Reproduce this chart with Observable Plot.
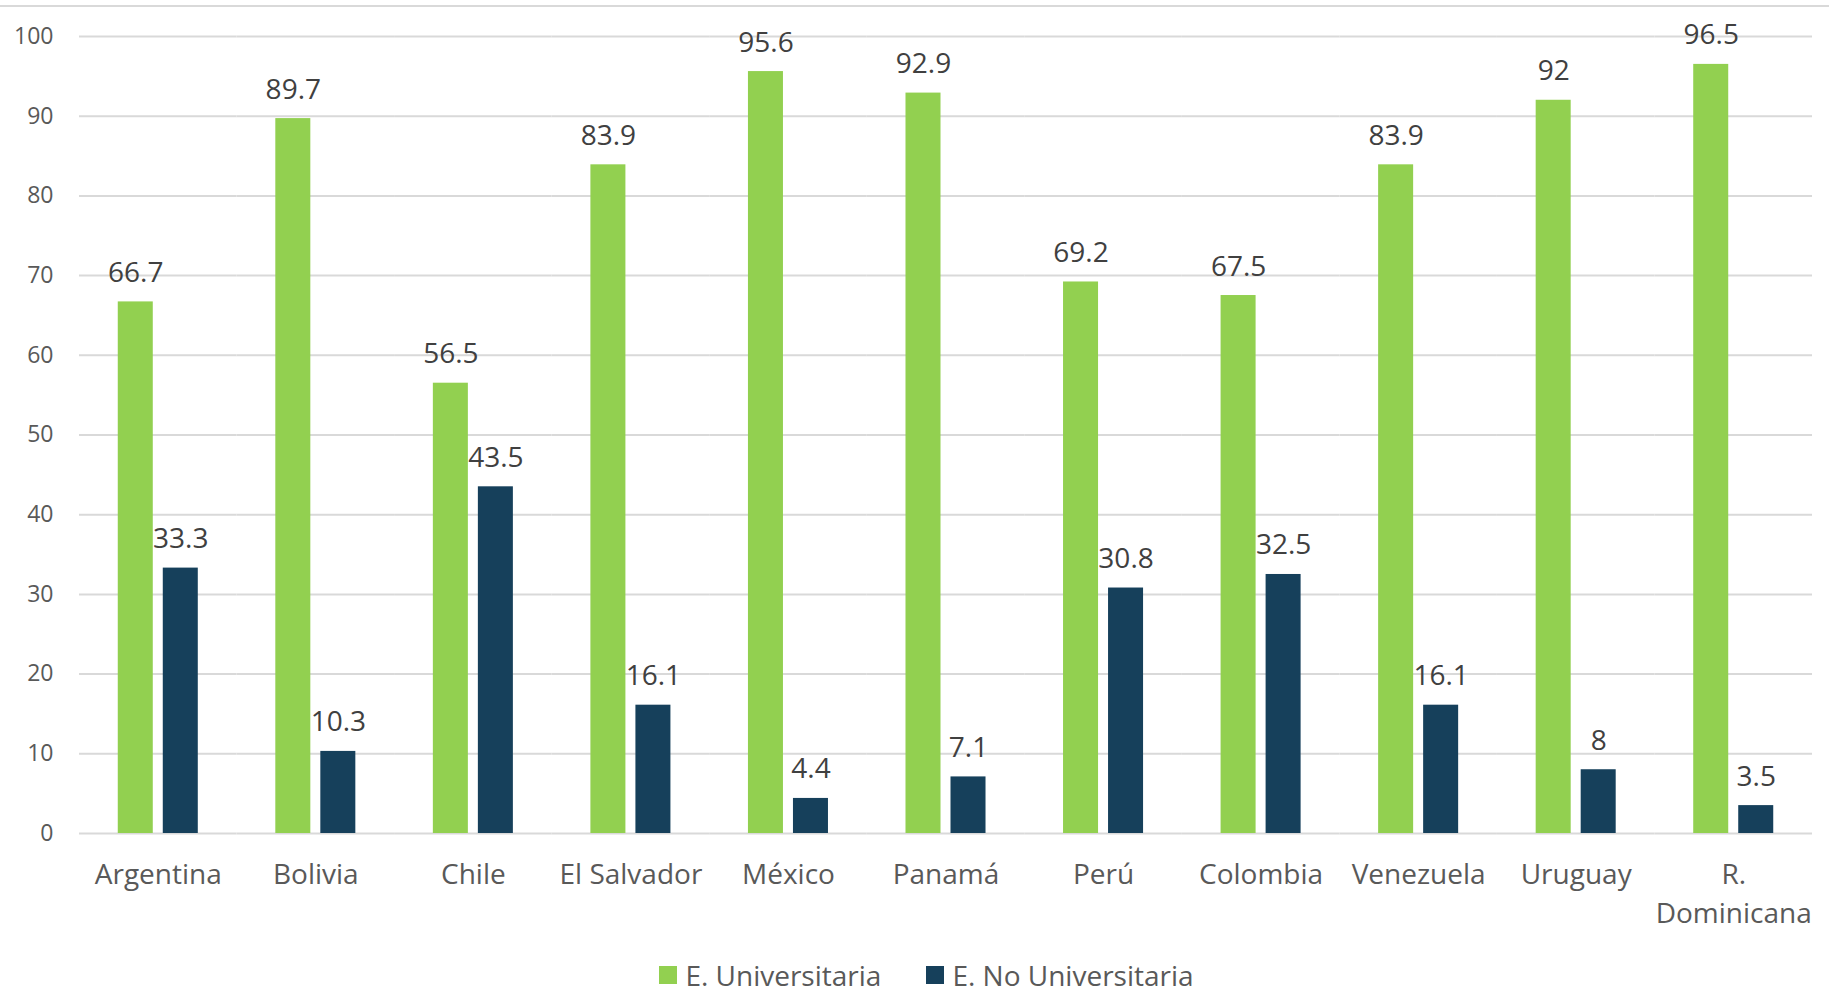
<!DOCTYPE html>
<html>
<head>
<meta charset="utf-8">
<script src="https://cdn.jsdelivr.net/npm/d3@7"></script>
<script src="https://cdn.jsdelivr.net/npm/@observablehq/plot@0.6"></script>
<style>
  html, body { margin: 0; padding: 0; background: #fff; }
  body { width: 1829px; font-family: "Open Sans", sans-serif; }
  #topline { height: 0; border-top: 2px solid #d9d9d9; margin-top: 5px; }
  #legend { display: flex; justify-content: center; align-items: center; gap: 45px;
            margin-top: 20px; height: 36px; font-size: 28px; color: #595959; padding-left: 24px; }
  #legend .item { display: flex; align-items: center; gap: 8px; }
  #legend .sw { width: 18px; height: 18px; display: inline-block; }
</style>
</head>
<body>
<div id="topline"></div>
<div id="chart"></div>
<div id="legend"></div>
<script>
const countries = ["Argentina", "Bolivia", "Chile", "El Salvador", "México", "Panamá", "Perú", "Colombia", "Venezuela", "Uruguay", "R. Dominicana"];
const countryLabels = ["Argentina", "Bolivia", "Chile", "El Salvador", "México", "Panamá", "Perú", "Colombia", "Venezuela", "Uruguay", "R.\nDominicana"];
const series = ["E. Universitaria", "E. No Universitaria"];
const universitaria = [66.7, 89.7, 56.5, 83.9, 95.6, 92.9, 69.2, 67.5, 83.9, 92, 96.5];
const noUniversitaria = [33.3, 10.3, 43.5, 16.1, 4.4, 7.1, 30.8, 32.5, 16.1, 8, 3.5];
const yTicks = [0, 10, 20, 30, 40, 50, 60, 70, 80, 90, 100];
const colors = ["#92d050", "#16405b"];

const data = [];
countries.forEach((c, i) => {
  data.push({country: c, serie: series[0], value: universitaria[i]});
  data.push({country: c, serie: series[1], value: noUniversitaria[i]});
});
const labelOf = new Map(countries.map((c, i) => [c, countryLabels[i]]));

const chart = Plot.plot({
  width: 1829,
  height: 930,
  marginTop: 29,
  marginLeft: 79,
  marginRight: 17,
  marginBottom: 104,
  style: {fontFamily: "'Open Sans', sans-serif", background: "#fff", overflow: "visible"},
  fx: {domain: countries, paddingInner: 0, paddingOuter: 0, round: false, axis: null, label: null},
  x: {domain: series, paddingInner: 10 / 45, paddingOuter: 38.75 / 45, round: false, axis: null, label: null},
  y: {domain: [0, 100], axis: null, label: null},
  color: {domain: series, range: colors},
  marks: [
    Plot.gridY(yTicks, {stroke: "#d9d9d9", strokeOpacity: 1, strokeWidth: 2}),
    Plot.axisY(yTicks, {tickSize: 0, tickPadding: 26, fontSize: 23, fill: "#595959", label: null, tickFormat: d => String(d)}),
    Plot.axisFx({anchor: "bottom", tickSize: 0, tickPadding: 22, fontSize: 28, fill: "#595959", label: null,
                 lineHeight: 1.42, tickFormat: d => labelOf.get(d)}),
    Plot.barY(data, {fx: "country", x: "serie", y: "value", fill: "serie"}),
    Plot.text(data, {fx: "country", x: "serie", y: "value", text: d => String(d.value),
                     dy: -20, lineAnchor: "bottom", fontSize: 28, fill: "#404040"})
  ]
});
document.getElementById("chart").appendChild(chart);

const legend = document.getElementById("legend");
series.forEach((s, i) => {
  const item = document.createElement("div");
  item.className = "item";
  const sw = document.createElement("span");
  sw.className = "sw";
  sw.style.background = colors[i];
  const t = document.createElement("span");
  t.textContent = s;
  item.appendChild(sw);
  item.appendChild(t);
  legend.appendChild(item);
});
</script>
</body>
</html>
